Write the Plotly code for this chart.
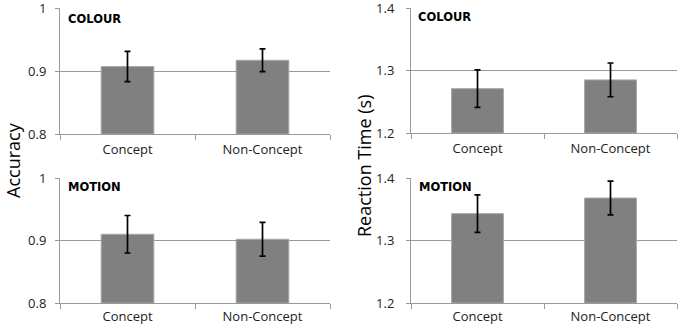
import plotly.graph_objects as go

categories = ["Concept", "Non-Concept"]
acc_colour = [0.907, 0.917]
acc_colour_err = [0.024, 0.018]
acc_motion = [0.910, 0.902]
acc_motion_err = [0.030, 0.027]
rt_colour = [1.271, 1.285]
rt_colour_err = [0.030, 0.027]
rt_motion = [1.343, 1.368]
rt_motion_err = [0.030, 0.027]
acc_ticks = [0.8, 0.9, 1.0]
rt_ticks = [1.2, 1.3, 1.4]

W, H = 680, 332
FONT = "Open Sans"
GRID = "#9a9a9a"
BAR = "#808080"

panels = [
    # values, errors, x-domain px, y-domain px (top,bottom), range, ticks, label, label pos px
    (acc_colour, acc_colour_err, (60, 330), (8, 134), [0.8, 1.0], acc_ticks, "COLOUR", (66, 19)),
    (rt_colour, rt_colour_err, (411, 677), (8, 133), [1.2, 1.4], rt_ticks, "COLOUR", (416, 17)),
    (acc_motion, acc_motion_err, (60, 330), (178, 303), [0.8, 1.0], acc_ticks, "MOTION", (66, 187)),
    (rt_motion, rt_motion_err, (411, 677), (178, 303), [1.2, 1.4], rt_ticks, "MOTION", (417, 187)),
]

fig = go.Figure()
layout = dict(
    width=W, height=H, margin=dict(l=0, r=0, t=0, b=0, autoexpand=False),
    paper_bgcolor="white", plot_bgcolor="white", showlegend=False,
    bargap=0.61, font=dict(family=FONT, size=12, color="#222"),
)
annotations = []
for i, (vals, errs, xd, yd, rng, ticks, label, lpos) in enumerate(panels):
    n = i + 1
    xa = "x" if n == 1 else f"x{n}"
    ya = "y" if n == 1 else f"y{n}"
    fig.add_trace(go.Bar(
        x=categories, y=[v - rng[0] for v in vals], base=rng[0],
        xaxis=xa, yaxis=ya,
        marker=dict(color=BAR, line=dict(color="#a8a8a8", width=1)),
        error_y=dict(type="data", array=errs, color="black", thickness=1.7, width=3),
        hoverinfo="skip",
    ))
    xkey = "xaxis" if n == 1 else f"xaxis{n}"
    ykey = "yaxis" if n == 1 else f"yaxis{n}"
    layout[xkey] = dict(
        domain=[xd[0] / W, xd[1] / W], anchor=ya, automargin=False,
        showline=True, linecolor=GRID, linewidth=1,
        ticks="outside", tickson="boundaries", ticklen=5, tickcolor=GRID,
        ticklabelstandoff=3 if n <= 2 else 1, ticklabeloverflow="allow",
        showgrid=False, tickfont=dict(family=FONT, size=13, color="#222"),
        fixedrange=True,
    )
    layout[ykey] = dict(
        domain=[1 - yd[1] / H, 1 - yd[0] / H], anchor=xa, automargin=False,
        range=rng, tickvals=ticks, ticktext=[f"{t:g}" for t in ticks],
        showline=True, linecolor=GRID, linewidth=1,
        ticks="outside", ticklen=4, tickcolor=GRID,
        ticklabelstandoff=6 if n % 2 == 1 else 9, ticklabeloverflow="allow",
        showgrid=True, gridcolor=GRID, gridwidth=1, zeroline=False,
        tickfont=dict(family=FONT, size=13, color="#222"),
        fixedrange=True,
    )
    annotations.append(dict(
        text=f"<b>{label}</b>", xref="paper", yref="paper",
        x=lpos[0] / W, y=1 - lpos[1] / H,
        xanchor="left", yanchor="middle", showarrow=False,
        font=dict(family="DejaVu Sans", size=11.5, color="black"),
    ))

annotations.append(dict(
    text="Accuracy", xref="paper", yref="paper", x=13 / W, y=1 - 160 / H,
    xanchor="center", yanchor="middle", textangle=-90, showarrow=False,
    font=dict(family=FONT, size=18, color="black"),
))
annotations.append(dict(
    text="Reaction Time (s)", xref="paper", yref="paper", x=364 / W, y=1 - 166 / H,
    xanchor="center", yanchor="middle", textangle=-90, showarrow=False,
    font=dict(family=FONT, size=18, color="black"),
))
layout["annotations"] = annotations
fig.update_layout(**layout)
fig.write_html(
    "out.html",
    config={"displayModeBar": False, "staticPlot": True},
    post_script="document.body.style.margin='0';document.body.style.padding='0';",
)
